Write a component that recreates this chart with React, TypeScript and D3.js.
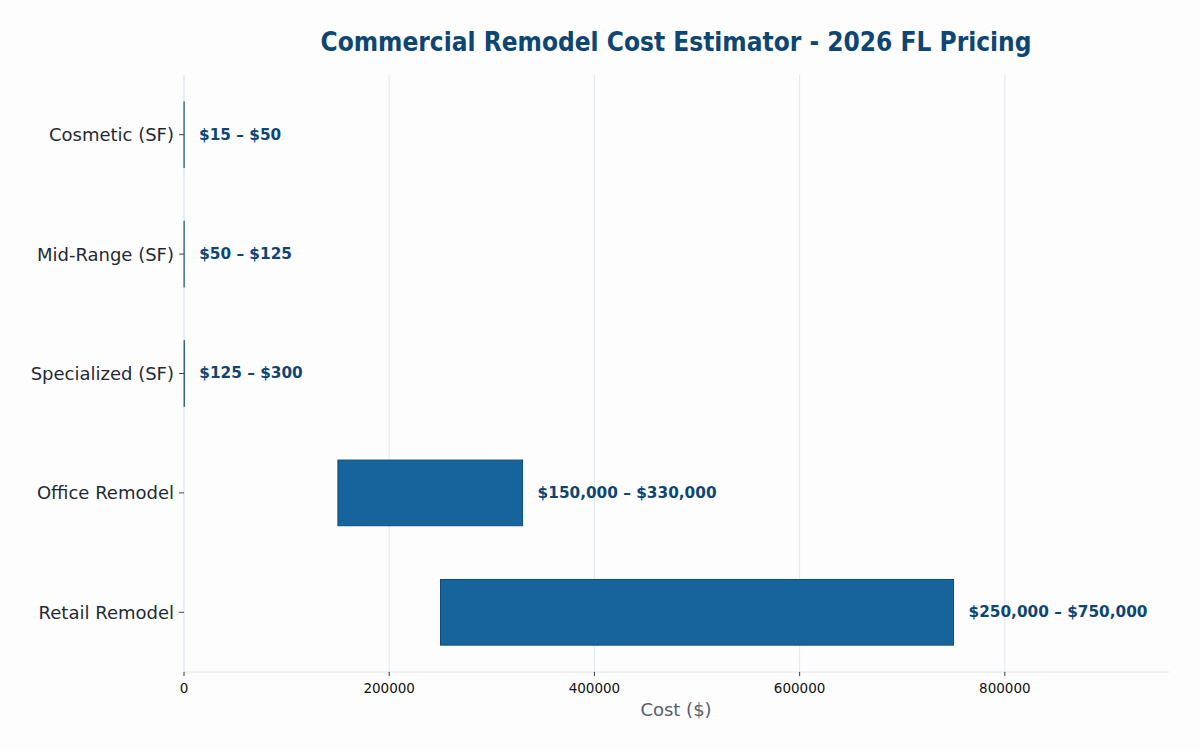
import React from "react";
import * as d3 from "d3";

const categories = ["Cosmetic (SF)", "Mid-Range (SF)", "Specialized (SF)", "Office Remodel", "Retail Remodel"];
const lowValues = [15, 50, 125, 150000, 250000];
const highValues = [50, 125, 300, 330000, 750000];
const rangeLabels = ["$15 – $50", "$50 – $125", "$125 – $300", "$150,000 – $330,000", "$250,000 – $750,000"];
const xTicks = [0, 200000, 400000, 600000, 800000];

const W = 1200;
const H = 750;
const margin = { left: 184, right: 31, top: 75, bottom: 78 };
const FONT = "'DejaVu Sans', sans-serif";

export default function App() {
  const x = d3.scaleLinear().domain([0, 960000]).range([margin.left, W - margin.right]);
  const y = d3.scaleLinear().domain([-0.5, 4.5]).range([margin.top, H - margin.bottom]);
  const barH = y(0.55) - y(0);
  const bottom = H - margin.bottom;

  return (
    <svg width={W} height={H} style={{ position: "absolute", left: 0, top: 0, background: "#fdfdfd" }} fontFamily={FONT}>
      <rect x={0} y={0} width={W} height={H} fill="#fdfdfd" />
      <text x={676} y={51} textAnchor="middle" fontSize={26} fontWeight="bold" fill="#0e4673" style={{ fontStretch: "condensed" }}>
        Commercial Remodel Cost Estimator - 2026 FL Pricing
      </text>
      {xTicks.map((t) => (
        <line key={"g" + t} x1={x(t)} x2={x(t)} y1={margin.top} y2={bottom} stroke="#dfe8f1" strokeWidth={1} />
      ))}
      <line x1={margin.left} x2={W - margin.right} y1={bottom} y2={bottom} stroke="#dbe4ee" strokeWidth={1} />
      <line x1={margin.left} x2={margin.left} y1={margin.top} y2={bottom} stroke="#dfe8f1" strokeWidth={1} />
      {categories.map((c, i) => {
        const x0 = x(lowValues[i]);
        const x1 = x(highValues[i]);
        const yc = y(i);
        return (
          <g key={c}>
            <rect x={x0} y={yc - barH / 2} width={Math.max(x1 - x0, 0.1)} height={barH} fill="#17639c" stroke="#0f4b7a" strokeWidth={1} />
            <line x1={margin.left - 5} x2={margin.left} y1={yc} y2={yc} stroke="#333" strokeWidth={0.9} />
            <text x={margin.left - 10} y={yc} dy="0.36em" textAnchor="end" fontSize={18} fill="#1f2a36">{c}</text>
            <text x={x1 + 15} y={yc} dy="0.32em" fontSize={15.3} fontWeight="bold" fill="#0e4673">{rangeLabels[i]}</text>
          </g>
        );
      })}
      {xTicks.map((t) => (
        <g key={"t" + t}>
          <line x1={x(t)} x2={x(t)} y1={bottom} y2={bottom + 4} stroke="#222" strokeWidth={0.9} />
          <text x={x(t)} y={bottom + 21} textAnchor="middle" fontSize={13.5} fill="#111">{t}</text>
        </g>
      ))}
      <text x={676} y={716} textAnchor="middle" fontSize={18} fill="#56606e">Cost ($)</text>
    </svg>
  );
}
